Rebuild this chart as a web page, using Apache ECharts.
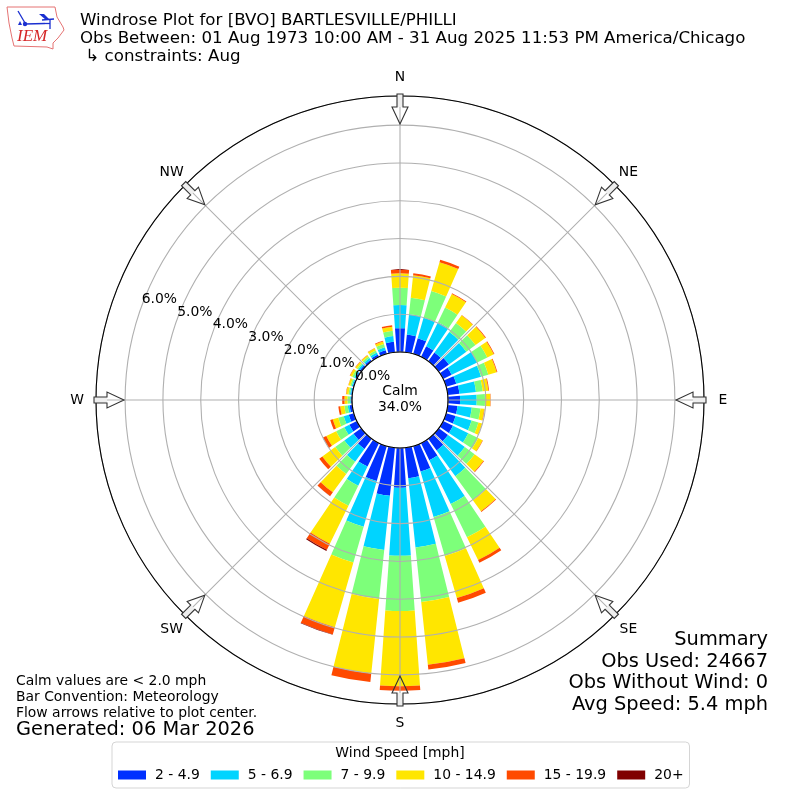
<!DOCTYPE html>
<html><head><meta charset="utf-8">
<style>html,body{margin:0;padding:0;background:#fff}#c{width:800px;height:800px}</style>
<script src="https://cdn.jsdelivr.net/npm/echarts@6/dist/echarts.min.js"></script>
</head><body><div id="c"></div>
<script>
const directions=[0,10,20,30,40,50,60,70,80,90,100,110,120,130,140,150,160,170,180,190,200,210,220,230,240,250,260,270,280,290,300,310,320,330,340,350];
const speedBins=['2 - 4.9','5 - 6.9','7 - 9.9','10 - 14.9','15 - 19.9','20+'];
const binColors=['#0030ff','#00d4ff','#7dff7a','#ffe600','#ff4a00','#800000'];
const compass=['N','NE','E','SE','S','SW','W','NW'];
const bin1=[.63,.47,.43,.31,.28,.33,.25,.28,.31,.32,.26,.26,.29,.30,.38,.50,.70,.81,1.05,1.28,.96,.69,.33,.25,.22,.14,.07,.03,.03,.03,.04,.05,.05,.07,.10,.28];
const bin2=[.61,.54,.56,.71,.67,.57,.75,.68,.44,.44,.38,.44,.45,.55,.84,1.29,1.25,1.84,1.80,1.44,1.26,.56,.42,.30,.15,.14,.05,.02,.03,.03,.04,.05,.05,.06,.08,.15];
const bin3=[.46,.44,.74,.43,.30,.30,.30,.20,.18,.22,.23,.19,.29,.32,.79,.98,1.07,1.45,1.46,1.30,.98,.59,.40,.30,.24,.15,.09,.07,.04,.04,.06,.04,.05,.06,.09,.14];
const bin4=[.38,.60,.79,.40,.25,.32,.19,.23,.15,.14,.10,.10,.13,.29,.36,.67,1.16,1.67,1.99,1.98,1.78,1.12,.60,.42,.29,.15,.11,.08,.06,.05,.06,.05,.04,.06,.07,.11];
const bin5=[.10,.05,.07,.02,.01,.02,.02,.02,.02,.01,.01,.005,.01,.02,.02,.08,.13,.13,.12,.23,.20,.18,.12,.10,.10,.07,.05,.06,.01,.005,.01,.01,.01,.01,.02,.04];
const bin6=[0,0,0,0,0,0,0,0,0,0,0,0,0,0,0,0,0,0,0,0,.01,.03,.005,0,0,0,0,0,0,0,0,0,0,0,0,0];
const binValues=[bin1,bin2,bin3,bin4,bin5,bin6];
const titleLines=['Windrose Plot for [BVO] BARTLESVILLE/PHILLI','Obs Between: 01 Aug 1973 10:00 AM - 31 Aug 2025 11:53 PM America/Chicago',' ↳ constraints: Aug'];
const noteLines=['Calm values are < 2.0 mph','Bar Convention: Meteorology','Flow arrows relative to plot center.'];
const summaryLines=['Summary','Obs Used: 24667','Obs Without Wind: 0','Avg Speed: 5.4 mph'];

const FONT='DejaVu Sans';
const rot=a=>a.slice(29).concat(a.slice(0,29)); // radius labels sit on the 290 degree spoke
const txt=(x,y,text,size,align,vert)=>({type:'text',x,y,z:20,silent:true,style:{text,fontFamily:FONT,fontSize:size,fill:'#000',textAlign:align||'left',textVerticalAlign:vert||'middle'}});

const graphic=[];
// flow arrows and compass labels
compass.forEach((c,i)=>{
  const rotation=-(i-4)*Math.PI/4;
  graphic.push({type:'polygon',x:400,y:400,originX:0,originY:0,rotation,z:15,silent:true,shape:{points:[[-3,293],[3,293],[3,306],[-3,306]]},style:{fill:'#eeeeee',stroke:null}});
  graphic.push({type:'polygon',x:400,y:400,originX:0,originY:0,rotation,z:16,silent:true,shape:{points:[[0,276],[8,293],[3,293],[3,306],[-3,306],[-3,293],[-8,293]]},style:{fill:'rgba(255,255,255,0.05)',stroke:'#333',lineWidth:1.1}});
  const a=i*Math.PI/4;
  graphic.push(txt(400+323*Math.sin(a),400.5-323*Math.cos(a),c,13.9,'center'));
});
// logo
graphic.push({type:'polygon',z:10,silent:true,shape:{points:[[7,7],[55,7],[57,17],[63,27],[64,30],[58,38],[53,43],[53,49],[47,47],[14,46],[12,38],[9,23]]},style:{fill:'#fff',stroke:'#e57373',lineWidth:1}});
[[[25,24],[45,23.5]],[[25,23],[18,11]],[[45,23.5],[50,23.5]],[[50,20],[50,29]],[[42,20],[54,19]]].forEach(p=>graphic.push({type:'polyline',z:11,silent:true,shape:{points:p},style:{stroke:'#1a2fd0',lineWidth:1.3,fill:null}}));
graphic.push({type:'polygon',z:11,silent:true,shape:{points:[[39,14],[44,14],[50,20],[46,20]]},style:{fill:'#1a2fd0'}});
graphic.push({type:'circle',z:11,silent:true,shape:{cx:25,cy:24,r:2.2},style:{fill:'#1a2fd0'}});
graphic.push({type:'polygon',z:11,silent:true,shape:{points:[[20,21],[22,25],[18,25]]},style:{fill:'#1a2fd0'}});
graphic.push({type:'text',x:17,y:45,z:12,silent:true,style:{text:'IEM',fontFamily:'Liberation Serif',fontStyle:'italic',fontSize:17,fill:'#d62728',textVerticalAlign:'bottom'}});
// center
graphic.push(txt(400,391.5,'Calm',13.9,'center'));
graphic.push(txt(400,407.5,'34.0%',13.9,'center'));
// notes
noteLines.forEach((t,i)=>graphic.push(txt(16,681+i*16,t,13.9)));
graphic.push(txt(16,730,'Generated: 06 Mar 2026',19.4));
summaryLines.forEach((t,i)=>graphic.push(txt(768,640+i*21.6,t,19.4,'right')));
graphic.push(txt(400,753,'Wind Speed [mph]',13.9,'center'));
graphic.forEach(g=>{g.zlevel=2;});

const option={
  animation:false,
  backgroundColor:'#fff',
  textStyle:{fontFamily:FONT},
  title:{text:titleLines.join('\n'),left:80,top:12,padding:0,textStyle:{fontFamily:FONT,fontSize:16.67,fontWeight:'normal',color:'#000',lineHeight:18}},
  legend:{left:112,top:742,orient:'horizontal',icon:'rect',itemWidth:28,itemHeight:9,itemGap:11,padding:[26,6,6,6],borderColor:'#d5d5d5',borderWidth:1,borderRadius:4,backgroundColor:'#fff',
    textStyle:{fontFamily:FONT,fontSize:13.9,color:'#000',padding:[0,0,0,4]},data:speedBins,selectedMode:false},
  polar:[{center:[400,400],radius:[48,304]},{center:[400,400],radius:[48,304]}],
  angleAxis:[
    {polarIndex:0,type:'category',data:rot(directions),startAngle:160,boundaryGap:false,axisLine:{show:false},axisTick:{show:false},axisLabel:{show:false},splitLine:{show:false},z:1},
    {polarIndex:1,type:'value',min:0,max:360,interval:45,startAngle:90,zlevel:1,z:5,
      axisLine:{show:true,lineStyle:{color:'#000',width:1.1}},axisTick:{show:false},axisLabel:{show:false},
      splitLine:{show:true,lineStyle:{color:'#b0b0b0',width:1.1}}}
  ],
  radiusAxis:[
    {polarIndex:0,type:'value',min:0,max:6.77,interval:1,zlevel:1,z:6,axisLine:{show:false},axisTick:{show:false},
      axisLabel:{show:true,margin:0,align:'left',verticalAlign:'bottom',color:'#000',fontFamily:FONT,fontSize:13.9,showMaxLabel:false,formatter:v=>v.toFixed(1)+'%'},
      splitLine:{show:false}},
    {polarIndex:1,type:'value',min:0,max:6.77,interval:1,zlevel:1,z:4,axisLine:{show:false},axisTick:{show:false},axisLabel:{show:false},
      splitLine:{show:true,lineStyle:{color:'#b0b0b0',width:1.1}}}
  ],
  series:speedBins.map((name,i)=>({name,type:'bar',coordinateSystem:'polar',polarIndex:0,stack:'rose',barWidth:'80%',itemStyle:{color:binColors[i]},data:rot(binValues[i]),silent:true})),
  graphic
};
echarts.init(document.getElementById('c'),null,{renderer:'canvas'}).setOption(option);
</script></body></html>
